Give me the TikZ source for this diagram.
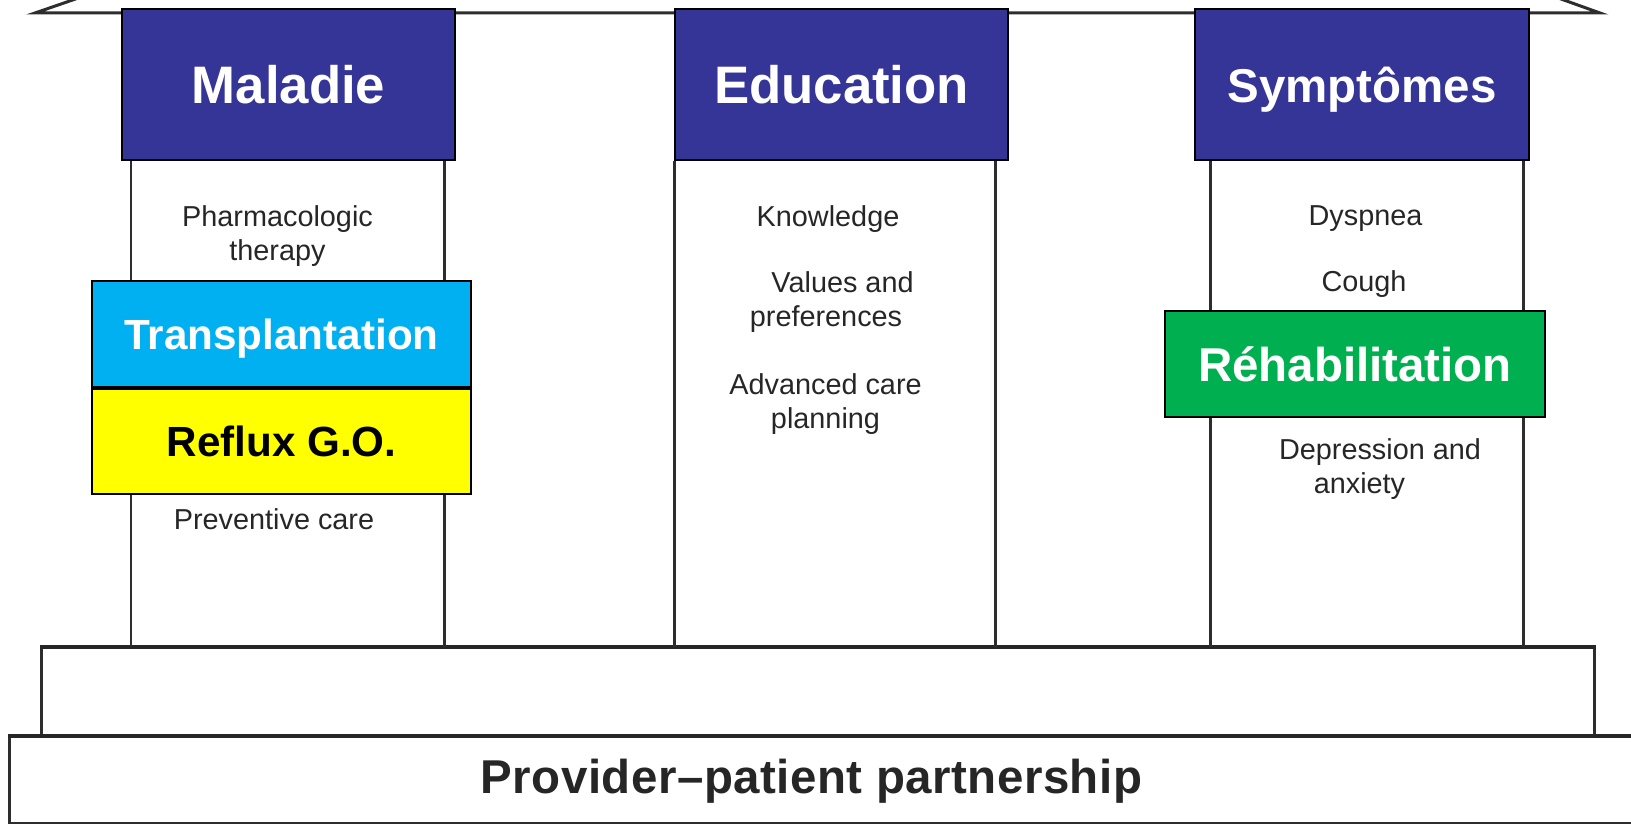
\documentclass[tikz,border=0pt]{standalone}
\usepackage{fontspec}
\setmainfont{Liberation Sans}
\usetikzlibrary{positioning}

\definecolor{headblue}{RGB}{53,52,151}
\definecolor{transcyan}{RGB}{0,176,240}
\definecolor{refluxyellow}{RGB}{255,255,0}
\definecolor{rehabgreen}{RGB}{0,176,80}
\definecolor{linegray}{RGB}{45,45,45}

\tikzset{
  pillarhead/.style={draw=black, line width=0.6pt, fill=headblue, text=white,
    inner sep=0pt, minimum width=3.33cm, minimum height=1.51cm, text depth=0pt,
    font=\fontsize{15}{18}\selectfont\bfseries},
  addon/.style={draw=black, line width=0.6pt, inner sep=0pt,
    minimum width=3.79cm, minimum height=1.06cm, text depth=0pt,
    font=\fontsize{12}{14}\selectfont\bfseries},
  pillar/.style={draw=linegray, line width=0.85pt},
  item/.style={anchor=base, align=center, inner sep=0pt, text=black!85,
    font=\fontsize{8.2}{9.7}\selectfont},
  stepbox/.style={draw=linegray, line width=0.6pt, inner sep=0pt},
}

\begin{document}
\begin{tikzpicture}[x=0.01cm, y=-0.01cm]
  \useasboundingbox (0,0) rectangle (1631,825);
  \clip (0,0) rectangle (1631,825);

  % roof
  \draw[linegray, line width=0.85pt] (90,-6) -- (35,13) -- (1600,13) -- (1547,-6);

  % the two steps
  \node[stepbox, minimum width=16.5cm, minimum height=0.86cm] (lower) at (835,780) {};
  \node[stepbox, minimum width=15.52cm, minimum height=0.89cm] (upper) at (818,692.5) {};
  \draw[black!85, line width=0.95pt] (lower.north west) -- (lower.north east);
  \draw[black!85, line width=0.95pt] (upper.north west) -- (upper.north east);
  \node[anchor=base, inner sep=0pt, text=black!85,
    font=\fontsize{13.5}{16}\selectfont\bfseries\addfontfeature{LetterSpace=1.0}]
    (partnership) at (811.5,793) {Provider\textendash patient partnership};

  % pillar heads
  \node[pillarhead] (maladie) at (288.5,84.5) {Maladie};
  \node[pillarhead] (education) at (841.5,84.5) {Education};
  \node[pillarhead, font=\fontsize{13.5}{16}\selectfont\bfseries] (symptomes) at (1362,84.5) {Symptômes};

  % pillar sides
  \begin{scope}[pillar]
    \draw (131,0 |- maladie.south) -- (131,0 |- upper.north);
    \draw (444,0 |- maladie.south) -- (444,0 |- upper.north);
    \draw (674,0 |- education.south) -- (674,0 |- upper.north);
    \draw (995,0 |- education.south) -- (995,0 |- upper.north);
    \draw (1210,0 |- symptomes.south) -- (1210,0 |- upper.north);
    \draw (1523,0 |- symptomes.south) -- (1523,0 |- upper.north);
  \end{scope}

  % pillar contents (base = last line)
  \node[item] (pharma) at (277.5,261) {Pharmacologic\\therapy};
  \node[item] (preventive) at (274,529) {Preventive care};
  \node[item] (knowledge) at (828,227) {Knowledge};
  \node[item] (values) at (826,327) {\hspace*{9.4pt}Values and\\preferences};
  \node[item] (planning) at (825.5,429) {Advanced care\\planning};
  \node[item] (dyspnea) at (1365.5,226) {Dyspnea};
  \node[item] (cough) at (1364,292) {Cough};
  \node[item] (depression) at (1380,494) {Depression and\\anxiety\hspace*{11.7pt}};

  % added boxes
  \node[addon, fill=transcyan, text=white] (transplant) at (281.5,334) {Transplantation};
  \node[addon, fill=refluxyellow, text=black, below=0pt of transplant, minimum height=1.05cm] (reflux) {Reflux G.O.};
  \node[addon, fill=rehabgreen, text=white, minimum width=3.8cm,
    font=\fontsize{13.5}{16}\selectfont\bfseries] (rehab) at (1355,364) {Réhabilitation};
\end{tikzpicture}
\end{document}
